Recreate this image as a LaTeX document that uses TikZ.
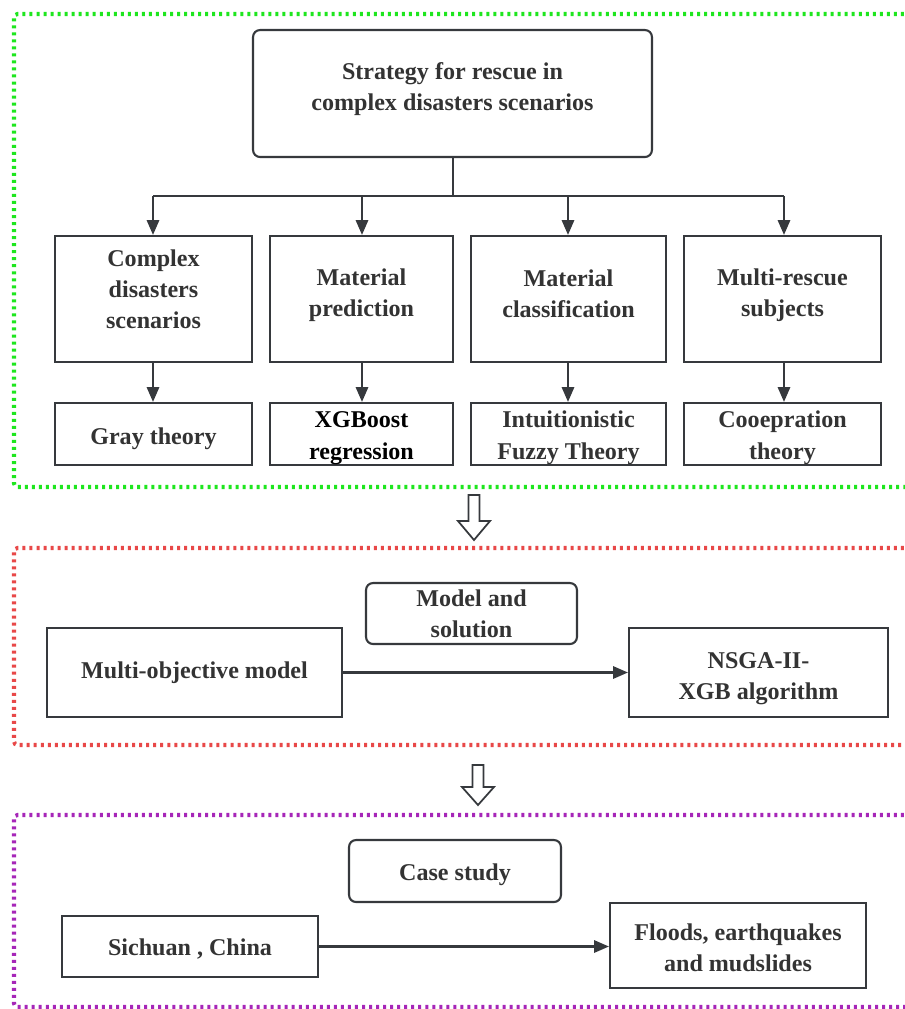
\documentclass[tikz,border=0pt]{standalone}
\usepackage{fontspec}
\setmainfont{Liberation Serif}[BoldFont={Liberation Serif Bold}]
\newfontfamily\serf{Liberation Serif}[BoldFont={Liberation Serif Bold}]
\usetikzlibrary{arrows.meta}
\definecolor{ink}{HTML}{36393D}
\definecolor{txt}{HTML}{333333}
\definecolor{grn}{HTML}{1EE61E}
\definecolor{rd}{HTML}{E84848}
\definecolor{prp}{HTML}{A626B8}
\tikzset{
  lbl/.style={align=center, text=txt, inner sep=1pt,
    font=\serf\bfseries\fontsize{13.7}{17.6}\selectfont},
  box/.style={lbl, draw=ink, line width=1.2pt, fill=white, inner sep=2pt},
  rbox/.style={box, rounded corners=4pt},
  conn/.style={draw=ink, line width=1.3pt},
  arr/.style={conn, -{Triangle[length=8.5pt,width=7pt]}},
  frame/.style={line width=2.3pt, dash pattern=on 1.7pt off 2.3pt, rounded corners=2pt},
  hollow/.style={draw=ink, line width=1pt, fill=white},
  tall/.style={font=\serf\bfseries\fontsize{13.7}{18.2}\selectfont},
}
\begin{document}
\begin{tikzpicture}[x=0.02cm,y=-0.02cm]
\useasboundingbox (0,0) rectangle (905,1009);
% frames
\draw[frame, draw=grn] (925,14) -- (14,14) -- (14,487) -- (925,487);
\draw[frame, draw=rd] (925,548) -- (14,548) -- (14,745) -- (925,745);
\draw[frame, draw=prp] (925,815) -- (14,815) -- (14,1007) -- (925,1007);

% top
\node[rbox, minimum width=7.98cm, minimum height=2.54cm] (top) at (452.5,93.5) {};
\node[lbl] (toptxt) at (452.5,89) {Strategy for rescue in\\complex disasters scenarios};

\node[box, minimum width=3.94cm, minimum height=2.52cm] (a1) at (153.5,299) {};
\node[box, minimum width=3.66cm, minimum height=2.52cm] (a2) at (361.5,299) {};
\node[box, minimum width=3.90cm, minimum height=2.52cm] (a3) at (568.5,299) {};
\node[box, minimum width=3.94cm, minimum height=2.52cm] (a4) at (782.5,299) {};
\node[lbl] (a1t) at (153.5,289) {Complex\\disasters\\scenarios};
\node[lbl] (a2t) at (361.5,295.5) {Material\\prediction};
\node[lbl] (a3t) at (568.5,294) {Material\\classification};
\node[lbl] (a4t) at (782.5,295.5) {Multi-rescue\\subjects};

\node[box, minimum width=3.94cm, minimum height=1.24cm] (b1) at (153.5,434) {};
\node[box, minimum width=3.66cm, minimum height=1.24cm] (b2) at (361.5,434) {};
\node[box, minimum width=3.90cm, minimum height=1.24cm] (b3) at (568.5,434) {};
\node[box, minimum width=3.94cm, minimum height=1.24cm] (b4) at (782.5,434) {};
\node[lbl] (b1t) at (153.5,439) {Gray theory};
\node[lbl, tall, text=black] (b2t) at (361.5,438) {XGBoost\\regression};
\node[lbl, tall] (b3t) at (568.5,438) {Intuitionistic\\Fuzzy Theory};
\node[lbl, tall] (b4t) at (782.5,438) {Cooepration\\theory};

% tree connectors
\coordinate (bus) at (453,196);
\coordinate (busL) at (153,196);
\coordinate (busR) at (784,196);
\draw[conn] (top.south -| bus) -- (bus);
\draw[conn] (busL) -- (busR);
\draw[arr] (busL) -- (a1.north -| busL);
\draw[arr] (362,196) -- (a2.north -| 362,0);
\draw[arr] (568,196) -- (a3.north -| 568,0);
\draw[arr] (busR) -- (a4.north -| busR);
\draw[arr] (a1.south -| 153,0) -- (b1.north -| 153,0);
\draw[arr] (a2.south -| 362,0) -- (b2.north -| 362,0);
\draw[arr] (a3.south -| 568,0) -- (b3.north -| 568,0);
\draw[arr] (a4.south -| 784,0) -- (b4.north -| 784,0);

% hollow arrows
\draw[hollow] (468.5,495) -- (479.5,495) -- (479.5,521) -- (490,521) -- (474,540) -- (458,521) -- (468.5,521) -- cycle;
\draw[hollow] (472.5,765) -- (483.5,765) -- (483.5,787) -- (494,787) -- (478,805) -- (462,787) -- (472.5,787) -- cycle;

% middle section
\node[rbox, minimum width=4.22cm, minimum height=1.22cm] (ms) at (471.5,613.5) {Model and\\solution};
\node[box, minimum width=5.90cm, minimum height=1.78cm] (mo) at (194.5,672.5) {Multi-objective model};
\node[box, minimum width=5.18cm, minimum height=1.78cm] (ns) at (758.5,672.5) {};
\node[lbl] (nst) at (758.5,678.5) {NSGA-II-\\XGB algorithm};
\draw[arr] (mo.east) -- (ns.west);

% bottom section
\node[rbox, minimum width=4.24cm, minimum height=1.24cm] (cs) at (455,871) {};
\node[lbl] (cst) at (455,875) {Case study};
\node[box, minimum width=5.12cm, minimum height=1.22cm] (sc) at (190,946.5) {};
\node[lbl] (sct) at (190,948.5) {Sichuan , China};
\node[box, minimum width=5.12cm, minimum height=1.70cm] (fl) at (738,945.5) {};
\node[lbl] (flt) at (738,947.5) {Floods, earthquakes\\and mudslides};
\draw[arr] (sc.east) -- (sc.east -| fl.west);
\end{tikzpicture}
\end{document}
